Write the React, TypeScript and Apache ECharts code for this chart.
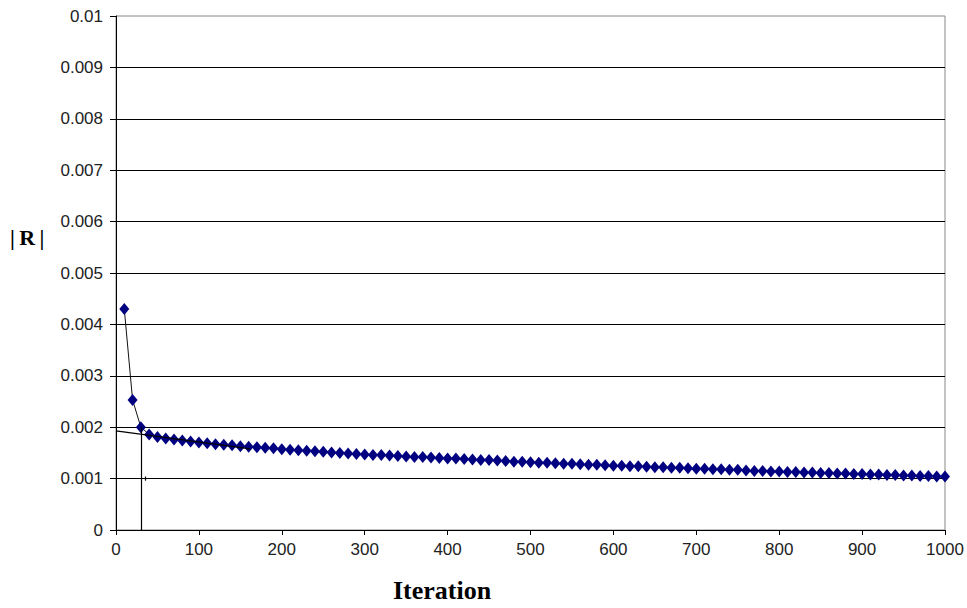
import React, { useEffect, useRef } from "react";
import * as echarts from "echarts";

// Iteration numbers at which |R| was sampled
const iterations = [
  10, 20, 30, 40, 50, 60, 70, 80, 90, 100,
  110, 120, 130, 140, 150, 160, 170, 180, 190, 200,
  210, 220, 230, 240, 250, 260, 270, 280, 290, 300,
  310, 320, 330, 340, 350, 360, 370, 380, 390, 400,
  410, 420, 430, 440, 450, 460, 470, 480, 490, 500,
  510, 520, 530, 540, 550, 560, 570, 580, 590, 600,
  610, 620, 630, 640, 650, 660, 670, 680, 690, 700,
  710, 720, 730, 740, 750, 760, 770, 780, 790, 800,
  810, 820, 830, 840, 850, 860, 870, 880, 890, 900,
  910, 920, 930, 940, 950, 960, 970, 980, 990, 1000,
];

// Residual norm |R| at each sampled iteration
const residuals = [
  0.0043, 0.00253, 0.002, 0.00186, 0.00181, 0.00178, 0.00176, 0.00174, 0.00172, 0.0017,
  0.00169, 0.00167, 0.00166, 0.00165, 0.00163, 0.00162, 0.00161, 0.0016, 0.00159, 0.00157,
  0.00156, 0.00155, 0.00154, 0.00153, 0.00152, 0.00151, 0.0015, 0.00149, 0.00148, 0.00147,
  0.00146, 0.00146, 0.00145, 0.00144, 0.00143, 0.00142, 0.00142, 0.00141, 0.0014, 0.00139,
  0.00139, 0.00138, 0.00137, 0.00136, 0.00136, 0.00135, 0.00134, 0.00133, 0.00133, 0.00132,
  0.00131, 0.00131, 0.0013, 0.00129, 0.00129, 0.00128, 0.00127, 0.00127, 0.00126, 0.00125,
  0.00125, 0.00124, 0.00124, 0.00123, 0.00122, 0.00122, 0.00121, 0.00121, 0.0012, 0.00119,
  0.00119, 0.00118, 0.00118, 0.00117, 0.00117, 0.00116, 0.00115, 0.00115, 0.00114, 0.00114,
  0.00113, 0.00113, 0.00112, 0.00112, 0.00111, 0.00111, 0.0011, 0.0011, 0.00109, 0.00109,
  0.00108, 0.00108, 0.00107, 0.00107, 0.00106, 0.00106, 0.00105, 0.00105, 0.00104, 0.00104,
];

// Hand-drawn guide lines: [x1, y1, x2, y2] in data units
const guideLines = [
  [30, 0, 30, 0.002],
  [0, 0.00193, 162, 0.00158],
  [35, 0.00096, 35, 0.00104],
];

const xTicks = [0, 1000, 100];
const yTicks = [0, 0.01, 0.001];

export default function App() {
  const ref = useRef<HTMLDivElement>(null);

  useEffect(() => {
    if (!ref.current) return;
    const chart = echarts.init(ref.current, undefined, { renderer: "svg" });
    const tickFont = {
      fontFamily: "'Liberation Sans', Arial, sans-serif",
      fontSize: 17,
      color: "#222",
    };
    chart.setOption({
      animation: false,
      backgroundColor: "#fff",
      grid: {
        left: 116,
        right: 22,
        top: 16,
        bottom: 78,
        show: true,
        borderColor: "#888",
        borderWidth: 1,
        backgroundColor: "transparent",
      },
      xAxis: {
        type: "value",
        min: xTicks[0],
        max: xTicks[1],
        interval: xTicks[2],
        axisLine: { show: true, onZero: false, lineStyle: { color: "#000", width: 1 } },
        axisTick: { show: true, inside: false, length: 5, lineStyle: { color: "#000" } },
        axisLabel: { ...tickFont, margin: 11, formatter: (v: number) => String(v) },
        splitLine: { show: false },
      },
      yAxis: {
        type: "value",
        min: yTicks[0],
        max: yTicks[1],
        interval: yTicks[2],
        axisLine: { show: true, onZero: false, lineStyle: { color: "#000", width: 1 } },
        axisTick: { show: true, inside: false, length: 6, lineStyle: { color: "#000" } },
        axisLabel: {
          ...tickFont,
          margin: 13,
          formatter: (v: number) => String(parseFloat(v.toFixed(4))),
        },
        splitLine: {
          show: true,
          showMinLine: false,
          showMaxLine: false,
          lineStyle: { color: "#000", width: 1 },
        },
      },
      graphic: [
        {
          type: "text",
          left: 10,
          top: 226,
          style: {
            text: "|\u2009R\u2009|",
            font: "bold 22px 'Liberation Serif', 'Times New Roman', serif",
            fill: "#000",
          },
        },
        {
          type: "text",
          left: 393,
          top: 577,
          style: {
            text: "Iteration",
            font: "bold 26px 'Liberation Serif', 'Times New Roman', serif",
            fill: "#000",
          },
        },
      ],
      series: [
        {
          type: "line",
          data: iterations.map((it, i) => [it, residuals[i]]),
          symbol: "diamond",
          symbolSize: [10, 12],
          itemStyle: { color: "#000080" },
          lineStyle: { color: "#111", width: 1 },
          markLine: {
            silent: true,
            symbol: "none",
            label: { show: false },
            lineStyle: { color: "#000", width: 1.2, type: "solid" },
            data: guideLines.map(([x1, y1, x2, y2]) => [
              { coord: [x1, y1] },
              { coord: [x2, y2] },
            ]),
          },
          z: 3,
        },
      ],
    });
    return () => chart.dispose();
  }, []);

  return (
    <div
      ref={ref}
      style={{ width: 967, height: 608, position: "absolute", left: 0, top: 0 }}
    />
  );
}
